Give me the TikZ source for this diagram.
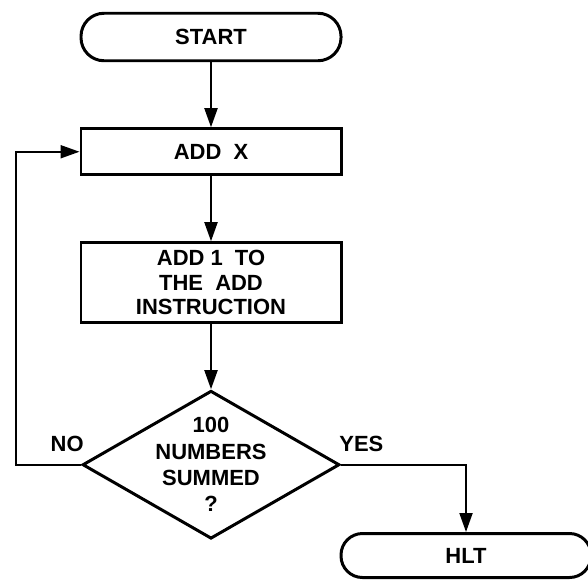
\documentclass[tikz,border=0pt]{standalone}
\usepackage{fontspec}
\setmainfont{Liberation Sans}
\usepackage{tikz}
\usetikzlibrary{shapes.geometric, arrows.meta, positioning}

\begin{document}
\begin{tikzpicture}[
node distance=1.3cm,
every node/.style={font=\fontsize{12.5}{14}\selectfont\bfseries},
terminal/.style={
    rectangle,
    rounded corners=0.46cm,
    draw=black,
    line width=1.7pt,
    minimum width=5.2cm,
    minimum height=0.95cm
},
process/.style={
    rectangle,
    draw=black,
    line width=1.7pt,
    align=center,
    minimum width=5.2cm,
    minimum height=0.92cm
},
decision/.style={
    diamond,
    aspect=1.74,
    draw=black,
    line width=1.7pt,
    align=center,
    inner sep=-4pt,
    minimum width=5.14cm,
    minimum height=2.96cm,
    font=\fontsize{12.5}{15}\selectfont\bfseries
},
arrow/.style={
    -{Triangle[length=0.38cm, width=0.26cm]},
    line width=1.1pt
}
]
\useasboundingbox (0,0) rectangle (11.76,-11.6);

\node (start) [terminal] at (4.22,-0.74) {START};

\node (addx) [process, below=of start] {ADD\ \ X};

\node (incr) [process, below=of addx, minimum height=1.6cm] {
ADD 1\ \ TO\\
THE\ \ ADD\\
INSTRUCTION
};

\node (test) [decision, below=of incr] {
100\\
NUMBERS\\
SUMMED\\
?
};

\node (hlt) [terminal, minimum width=5.0cm, minimum height=0.88cm, rounded corners=0.43cm] at (9.32,-11.11) {HLT};

\node (no) [above left=0.26cm and -0.06cm of test.west, inner sep=0pt] {NO};
\node (yes) [above right=0.26cm and -0.04cm of test.east, inner sep=0pt] {YES};

\draw [arrow] (start) -- (addx);
\draw [arrow] (addx) -- (incr);
\draw [arrow] (incr) -- (test);
\draw [arrow] (test.west) -- ++(-1.3,0) |- (addx.west);
\draw [arrow] (test.east) -| (hlt.north);

\end{tikzpicture}
\end{document}
